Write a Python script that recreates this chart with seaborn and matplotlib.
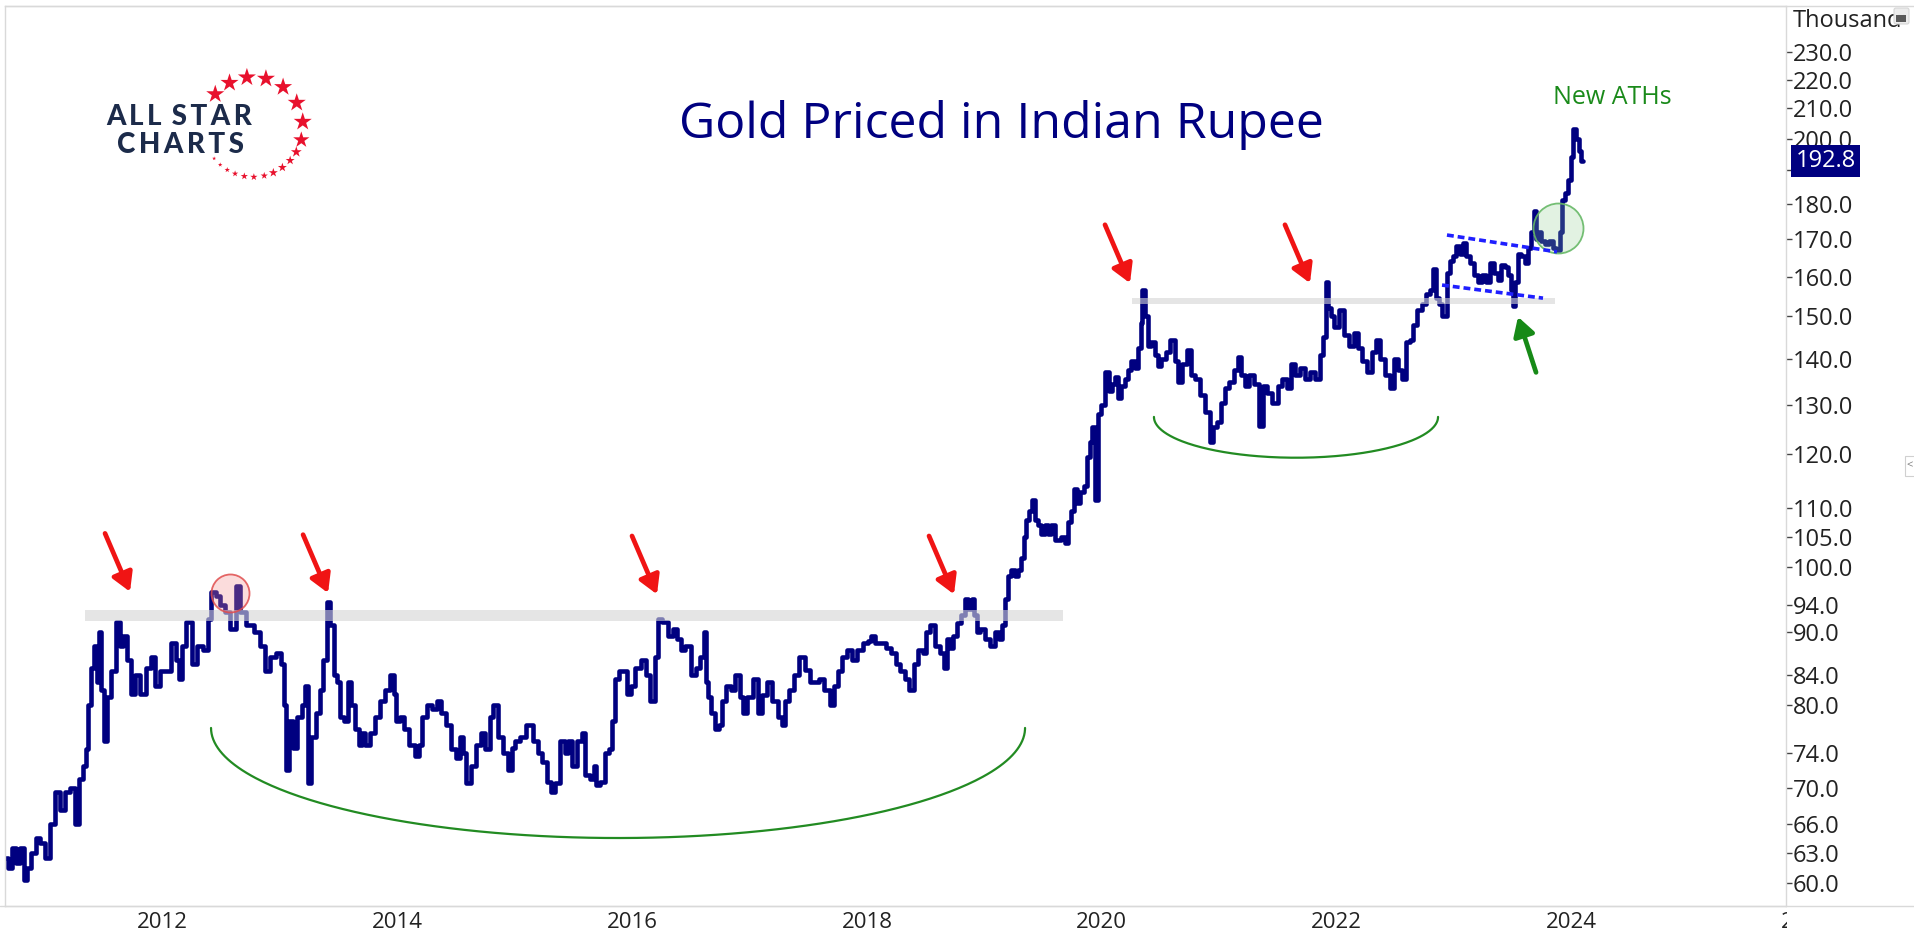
import numpy as np
import pandas as pd
import matplotlib
matplotlib.use("Agg")
import matplotlib.pyplot as plt
import seaborn as sns
from matplotlib import transforms
from matplotlib.ticker import FixedLocator, FuncFormatter, NullLocator
from matplotlib.patches import Rectangle, FancyBboxPatch, Arc

# ---------------------------------------------------------------------------
# Gold priced in Indian rupee (thousands), weekly-style readings by decimal year
# ---------------------------------------------------------------------------
seg_2011_2013 = [
    (2010.927, 62.5), (2010.961, 61.5), (2010.995, 63.5), (2011.029, 62.0),
    (2011.063, 63.5), (2011.089, 60.3), (2011.114, 61.5), (2011.157, 63.0),
    (2011.199, 64.5), (2011.233, 64.0), (2011.276, 62.5), (2011.319, 66.0),
    (2011.361, 69.5), (2011.404, 67.5), (2011.446, 69.5), (2011.489, 70.0),
    (2011.532, 66.0), (2011.557, 71.0), (2011.600, 72.5), (2011.617, 74.5),
    (2011.634, 80.0), (2011.659, 85.0), (2011.685, 88.0), (2011.710, 83.0),
    (2011.727, 90.0), (2011.753, 82.0), (2011.770, 75.5), (2011.796, 81.0),
    (2011.838, 84.5), (2011.881, 91.5), (2011.906, 88.0), (2011.940, 89.5),
    (2011.966, 86.0), (2012.009, 81.5), (2012.043, 84.0), (2012.094, 81.5),
    (2012.136, 85.0), (2012.179, 86.5), (2012.213, 82.5), (2012.264, 84.5),
    (2012.307, 84.5), (2012.349, 88.5), (2012.392, 86.0), (2012.409, 83.5),
    (2012.434, 88.0), (2012.494, 91.5), (2012.520, 85.5), (2012.579, 88.0),
    (2012.622, 87.5), (2012.664, 92.0), (2012.690, 96.0), (2012.733, 95.5),
    (2012.767, 94.0), (2012.809, 93.0), (2012.860, 90.5), (2012.903, 97.0),
    (2012.945, 93.0), (2013.005, 91.0), (2013.065, 90.0), (2013.116, 88.0),
    (2013.158, 84.5), (2013.201, 86.5), (2013.244, 87.0), (2013.286, 85.5),
    (2013.303, 80.0), (2013.320, 72.0), (2013.346, 78.0), (2013.388, 74.6),
    (2013.431, 78.5), (2013.457, 80.0), (2013.491, 82.5), (2013.508, 70.5),
    (2013.542, 76.0), (2013.584, 79.0), (2013.618, 82.0), (2013.644, 86.0),
    (2013.670, 94.5),
]

seg_2013_2016 = [
    (2013.704, 91.0), (2013.729, 84.0), (2013.755, 83.0), (2013.789, 78.5),
    (2013.814, 78.0), (2013.857, 83.0), (2013.882, 80.0), (2013.917, 77.0),
    (2013.942, 75.0), (2013.968, 76.5), (2014.002, 75.0), (2014.044, 76.5),
    (2014.087, 78.5), (2014.130, 80.5), (2014.172, 82.0), (2014.215, 84.0),
    (2014.240, 81.5), (2014.257, 78.0), (2014.300, 78.5), (2014.342, 77.0),
    (2014.385, 75.0), (2014.428, 73.7), (2014.453, 75.0), (2014.479, 78.5),
    (2014.538, 80.0), (2014.581, 79.5), (2014.607, 80.5), (2014.649, 79.0),
    (2014.692, 77.5), (2014.734, 74.5), (2014.777, 73.5), (2014.811, 76.0),
    (2014.836, 74.0), (2014.862, 70.5), (2014.905, 72.5), (2014.947, 75.0),
    (2014.990, 76.5), (2015.032, 74.5), (2015.066, 78.5), (2015.092, 80.0),
    (2015.135, 76.0), (2015.177, 74.0), (2015.220, 72.0), (2015.245, 74.7),
    (2015.288, 75.5), (2015.330, 76.0), (2015.390, 77.5), (2015.433, 75.5),
    (2015.475, 74.0), (2015.518, 73.0), (2015.560, 70.7), (2015.586, 69.5),
    (2015.620, 70.5), (2015.663, 75.5), (2015.705, 74.0), (2015.731, 75.5),
    (2015.773, 72.5), (2015.816, 75.5), (2015.842, 76.5), (2015.876, 71.5),
    (2015.918, 71.0), (2015.944, 72.5), (2015.969, 70.3), (2016.012, 70.7),
    (2016.046, 74.0), (2016.072, 74.5), (2016.097, 78.0), (2016.131, 83.5),
    (2016.157, 84.5), (2016.199, 84.5), (2016.242, 81.5), (2016.267, 82.5),
    (2016.310, 85.0), (2016.353, 86.0),
]

seg_2016_2019 = [
    (2016.395, 84.0), (2016.438, 80.5), (2016.472, 86.5), (2016.497, 92.0),
    (2016.540, 91.5), (2016.583, 89.5), (2016.625, 90.5), (2016.668, 89.0),
    (2016.693, 87.5), (2016.736, 88.0), (2016.779, 84.0), (2016.821, 85.0),
    (2016.855, 86.5), (2016.881, 90.0), (2016.898, 83.0), (2016.923, 81.0),
    (2016.949, 79.0), (2016.983, 77.0), (2017.009, 77.5), (2017.034, 80.5),
    (2017.077, 82.5), (2017.119, 82.0), (2017.162, 84.0), (2017.196, 81.0),
    (2017.221, 79.0), (2017.264, 81.0), (2017.307, 83.5), (2017.349, 79.0),
    (2017.392, 81.3), (2017.434, 83.0), (2017.477, 80.5), (2017.520, 78.5),
    (2017.545, 77.5), (2017.579, 80.5), (2017.622, 82.0), (2017.664, 84.0),
    (2017.707, 86.5), (2017.750, 84.7), (2017.792, 83.0), (2017.835, 83.0),
    (2017.877, 83.5), (2017.920, 82.0), (2017.963, 80.0), (2017.988, 82.5),
    (2018.031, 84.5), (2018.073, 86.5), (2018.116, 87.5), (2018.158, 86.0),
    (2018.201, 87.5), (2018.244, 88.5), (2018.286, 88.8), (2018.312, 89.5),
    (2018.354, 88.5), (2018.397, 88.5), (2018.440, 87.7), (2018.482, 87.0),
    (2018.525, 85.5), (2018.567, 84.5), (2018.601, 83.5), (2018.644, 82.0),
    (2018.670, 85.5), (2018.712, 87.5), (2018.755, 87.0), (2018.780, 90.0),
    (2018.823, 91.0), (2018.857, 88.0), (2018.900, 87.0), (2018.925, 85.0),
    (2018.951, 89.0), (2018.985, 87.7), (2019.010, 89.5), (2019.053, 91.3),
    (2019.078, 92.5), (2019.112, 95.0),
]

seg_2019_2020 = [
    (2019.138, 93.5), (2019.164, 95.0), (2019.181, 92.5), (2019.206, 90.0),
    (2019.249, 90.5), (2019.291, 89.0), (2019.334, 88.0), (2019.368, 90.0),
    (2019.394, 89.0), (2019.419, 91.0), (2019.453, 95.0), (2019.479, 98.5),
    (2019.504, 99.5), (2019.538, 98.5), (2019.564, 99.5), (2019.589, 101.5),
    (2019.606, 105.0), (2019.624, 108.0), (2019.649, 109.5), (2019.675, 111.5),
    (2019.709, 108.0), (2019.734, 107.0), (2019.760, 105.5), (2019.794, 107.0),
    (2019.819, 105.5), (2019.845, 107.0), (2019.879, 104.5), (2019.905, 104.5),
    (2019.930, 105.0), (2019.964, 104.0), (2019.990, 107.5), (2020.015, 109.5),
    (2020.041, 113.5), (2020.058, 111.0), (2020.092, 113.0), (2020.118, 114.0),
    (2020.143, 119.5), (2020.177, 122.5), (2020.186, 125.5), (2020.220, 111.5),
    (2020.245, 128.0), (2020.271, 130.0), (2020.305, 137.0), (2020.331, 133.0),
    (2020.356, 134.5), (2020.390, 136.0), (2020.416, 131.5), (2020.441, 134.0),
    (2020.475, 135.5), (2020.501, 137.5), (2020.526, 139.5), (2020.561, 138.0),
    (2020.578, 142.5), (2020.603, 148.5), (2020.612, 156.5), (2020.646, 150.0),
    (2020.671, 143.0), (2020.697, 144.0), (2020.731, 141.0),
]

seg_2020_2021 = [
    (2020.756, 138.5), (2020.782, 140.0), (2020.825, 141.5), (2020.867, 144.5),
    (2020.901, 139.5), (2020.927, 135.0), (2020.969, 139.0), (2021.012, 142.0),
    (2021.037, 136.5), (2021.080, 135.5), (2021.123, 132.0), (2021.165, 128.5),
    (2021.199, 122.5), (2021.225, 125.5), (2021.267, 126.5), (2021.293, 130.5),
    (2021.327, 133.5), (2021.370, 135.0), (2021.412, 137.5), (2021.438, 140.5),
    (2021.463, 136.5), (2021.497, 134.0), (2021.540, 136.5), (2021.583, 134.5),
    (2021.625, 125.6), (2021.651, 134.0), (2021.693, 132.5), (2021.736, 130.5),
    (2021.779, 134.0), (2021.821, 135.5), (2021.864, 133.5), (2021.889, 139.0),
    (2021.932, 136.5), (2021.974, 138.0),
]

seg_2022_2024 = [
    (2022.017, 135.5), (2022.060, 137.0), (2022.102, 135.5), (2022.136, 141.0),
    (2022.162, 145.0), (2022.179, 158.5), (2022.204, 152.0), (2022.221, 150.0),
    (2022.264, 147.5), (2022.307, 151.5), (2022.349, 145.5), (2022.392, 143.0),
    (2022.434, 146.0), (2022.460, 142.5), (2022.503, 139.5), (2022.545, 137.0),
    (2022.588, 141.5), (2022.613, 144.5), (2022.656, 140.0), (2022.698, 136.5),
    (2022.733, 133.5), (2022.775, 140.0), (2022.801, 137.5), (2022.843, 135.5),
    (2022.869, 144.0), (2022.903, 144.5), (2022.928, 148.0), (2022.971, 151.5),
    (2023.014, 153.0), (2023.039, 155.5), (2023.073, 156.5), (2023.099, 162.0),
    (2023.124, 154.5), (2023.141, 153.0), (2023.184, 150.0), (2023.218, 161.0),
    (2023.244, 164.0), (2023.269, 165.5), (2023.295, 168.0), (2023.329, 166.0),
    (2023.354, 169.0), (2023.380, 165.5), (2023.414, 163.5), (2023.457, 160.5),
    (2023.482, 158.5), (2023.525, 160.5), (2023.550, 158.5), (2023.584, 163.5),
    (2023.627, 161.0), (2023.652, 159.0), (2023.678, 163.0), (2023.712, 162.5),
    (2023.738, 160.5), (2023.763, 156.5), (2023.772, 152.5), (2023.797, 158.5),
    (2023.823, 166.0), (2023.848, 165.5), (2023.882, 163.5), (2023.908, 167.5),
    (2023.934, 172.0), (2023.951, 178.0), (2023.968, 170.0), (2023.993, 172.0),
    (2024.019, 169.5), (2024.053, 168.5), (2024.095, 169.5), (2024.121, 167.5),
    (2024.147, 167.0), (2024.181, 172.0), (2024.189, 181.0), (2024.223, 183.0),
    (2024.249, 187.0), (2024.266, 194.0), (2024.291, 203.0), (2024.317, 200.0),
    (2024.334, 196.0), (2024.360, 192.8),
]

last_price = 192.8

# Axis ticks / labels
year_ticks = [2012, 2014, 2016, 2018, 2020, 2022, 2024, 2026]
price_ticks = [60, 63, 66, 70, 74, 80, 84, 90, 94, 100, 105, 110, 120, 130,
               140, 150, 160, 170, 180, 190, 200, 210, 220, 230]
hidden_price_labels = [190]   # sits under the last-price tag

# Annotation anchors (decimal year, price)
resistance_bands = [(2011.60, 2019.93, 91.7, 93.3), (2020.52, 2024.12, 153.0, 154.5)]
red_arrow_tips = [(2011.983, 96.1), (2013.670, 95.9), (2016.472, 95.7),
                  (2019.002, 95.7), (2020.501, 158.3), (2022.034, 158.3)]
green_arrow_tip = (2023.806, 149.9)
pink_circle = (2012.835, 95.9)
green_circle = (2024.147, 173.0)
# cup arcs: centre year, half-width (years), centre price, half-height (log units)
cup_arcs = [(2016.140, 3.467, 77.1, 0.178), (2021.915, 1.210, 127.5, 0.066)]
channel_upper = ([2023.201, 2024.138], [171.1, 166.5])
channel_lower = ([2023.159, 2024.019], [157.8, 154.5])

# ---------------------------------------------------------------------------
NAVY = "#000080"
RED = "#f01414"
GREEN = "#1a8a1a"
FRAME = "#d9d9d9"

sns.set_theme(style="white")
plt.rcParams["font.family"] = ["Open Sans", "DejaVu Sans"]

rows = seg_2011_2013 + seg_2013_2016 + seg_2016_2019 + seg_2019_2020 + seg_2020_2021 + seg_2022_2024
df = pd.DataFrame(rows, columns=["year", "price"])

W, H = 1915, 938
fig = plt.figure(figsize=(W / 100, H / 100), dpi=100)
fig.patch.set_facecolor("white")
ax = fig.add_axes([5 / W, 32 / H, 1781 / W, 900 / H])
ax.set_facecolor("white")

sns.lineplot(data=df, x="year", y="price", ax=ax, color=NAVY, linewidth=3.3,
             drawstyle="steps-mid", estimator=None, sort=True, zorder=2)

ax.set_yscale("log")
ax.set_xlim(2010.918, 2026.089)
ax.set_ylim(57.81, 247.8)
ax.set_xlabel("")
ax.set_ylabel("")

# price axis on the right
ax.yaxis.tick_right()
ax.yaxis.set_major_locator(FixedLocator(price_ticks))
ax.yaxis.set_minor_locator(NullLocator())
ax.yaxis.set_major_formatter(FuncFormatter(
    lambda v, p: "" if round(v) in hidden_price_labels else f"{v:.1f}"))
ax.tick_params(axis="y", which="major", direction="out", length=4, width=1,
               color="#444444", pad=1, labelsize=17, labelcolor="#222222",
               right=True, left=False)

# date axis: long light tick lines with labels to their right
ax.set_xticks(year_ticks)
ax.xaxis.set_minor_locator(NullLocator())
ax.tick_params(axis="x", which="major", direction="out", length=23, width=1,
               color=FRAME, labelbottom=False)
xlab_trans = transforms.blended_transform_factory(ax.transData, ax.transAxes) + \
    transforms.ScaledTranslation(5 / 100, 0, fig.dpi_scale_trans)
for yr in year_ticks:
    ax.text(yr, -16 / 900, str(yr), transform=xlab_trans, ha="left", va="center",
            fontsize=16, color="#222222", clip_on=False)

for side in ["left", "right", "top", "bottom"]:
    ax.spines[side].set_color(FRAME)
    ax.spines[side].set_linewidth(1)

# resistance bands
for x0, x1, lo, hi in resistance_bands:
    ax.fill_between([x0, x1], [lo, lo], [hi, hi], color="#d4d4d4", alpha=0.6,
                    linewidth=0, zorder=3)

# highlight circles
ax.scatter([pink_circle[0]], [pink_circle[1]], s=750, marker="o",
           facecolor=(0.96, 0.55, 0.55, 0.30), edgecolor=(0.88, 0.30, 0.30, 0.85),
           linewidth=1.3, zorder=4)
ax.scatter([green_circle[0]], [green_circle[1]], s=1296, marker="o",
           facecolor=(0.55, 0.80, 0.55, 0.25), edgecolor=(0.40, 0.72, 0.40, 0.9),
           linewidth=1.3, zorder=4)

# cup-shaped arcs (half ellipses in year / log-price space)
theta = np.linspace(np.pi, 2 * np.pi, 240)
for cx, a, cy, b in cup_arcs:
    ax.plot(cx + a * np.cos(theta), np.exp(np.log(cy) + b * np.sin(theta)),
            color="#228b22", linewidth=1.6, zorder=5)

# consolidation channel
for xs, ys in (channel_upper, channel_lower):
    ax.plot(xs, ys, color="#1f1fff", linewidth=2.6, linestyle=(0, (1.9, 1.1)),
            dash_capstyle="butt", zorder=5)

# arrows
for tip in red_arrow_tips:
    ax.annotate("", xy=tip, xytext=(-18, 42), textcoords="offset points",
                arrowprops=dict(arrowstyle="-|>,head_length=0.55,head_width=0.32",
                                color=RED, lw=3.4, mutation_scale=20,
                                shrinkA=0, shrinkB=0), zorder=6)
ax.annotate("", xy=green_arrow_tip, xytext=(13, -40), textcoords="offset points",
            arrowprops=dict(arrowstyle="-|>,head_length=0.55,head_width=0.32",
                            color="#178a17", lw=3.4, mutation_scale=20,
                            shrinkA=0, shrinkB=0), zorder=6)

# last price tag
tag_trans = transforms.blended_transform_factory(ax.transAxes, ax.transData)
ax.text(1 + 9.5 / 1781, last_price, f"{last_price:.1f}", transform=tag_trans,
        ha="left", va="center", fontsize=17, color="white", clip_on=False,
        bbox=dict(boxstyle="square,pad=0.18", fc=NAVY, ec="none"), zorder=20)

# titles
fig.text(1001 / W, 1 - 138 / H, "Gold Priced in Indian Rupee", ha="center",
         va="baseline", fontsize=36, color=NAVY)
fig.text(1612 / W, 1 - 104 / H, "New ATHs", ha="center", va="baseline",
         fontsize=18, color=GREEN)
fig.text(1793 / W, 1 - 27 / H, "Thousand", ha="left", va="baseline",
         fontsize=17, color="#222222")

# overlay in pixel units for frame pieces and the logo
ov = fig.add_axes([0, 0, 1, 1], zorder=5)
ov.set_xlim(0, W)
ov.set_ylim(H, 0)
ov.axis("off")
ov.patch.set_alpha(0)

ov.add_patch(Rectangle((1787, 907), W - 1787, H - 907, fc="white", ec="none"))
ov.plot([5, W], [6, 6], color=FRAME, lw=1)
ov.plot([0, W], [906, 906], color=FRAME, lw=1)

# lock icon on the price scale
ov.add_patch(FancyBboxPatch((1894, 8), 15, 16, boxstyle="round,pad=0,rounding_size=2",
                            fc="#ececec", ec="#d6d6d6", lw=0.8))
ov.add_patch(Rectangle((1896.5, 15), 10, 7, fc="#5a5a5a", ec="none"))
ov.add_patch(Arc((1901.5, 15), 6.5, 9, theta1=0, theta2=180, color="#5a5a5a", lw=1.8))

# small collapse handle on the price scale
ov.add_patch(Rectangle((1905, 456), 10, 20, fc="white", ec="#d0d0d0", lw=0.8))
ov.text(1910, 466, "<", ha="center", va="center", fontsize=8, color="#777777")

# logo
logo_color = "#1c2b4a"
ov.text(106, 125, "A\u2009L\u2009L\u2009 S\u2009T\u2009A\u2009R", ha="left", va="baseline",
        fontsize=20, fontweight="black", color=logo_color, family=["Lato", "DejaVu Sans"])
ov.text(117, 153, "C\u2009H\u2009A\u2009R\u2009T\u2009S", ha="left", va="baseline",
        fontsize=20, fontweight="black", color=logo_color, family=["Lato", "DejaVu Sans"])
star_angles = np.radians([139, 118, 97, 75, 53, 29, 6, -15, -30, -42, -54, -66,
                          -77, -89, -100, -111, -121, -131, -141])
star_sizes = np.array([10, 10, 10, 10, 10, 10, 10, 9, 6, 5, 5, 5, 4, 4, 4, 3.5, 3, 2.5, 2.2])
sx = 253 + 50 * np.cos(star_angles)
sy = 127 - 50 * np.sin(star_angles)
ov.scatter(sx, sy, s=(star_sizes * 0.72 * 1.9) ** 2, marker="*", color="#e8112d",
           linewidths=0)

fig.savefig("out.png", dpi=100, facecolor="white")
